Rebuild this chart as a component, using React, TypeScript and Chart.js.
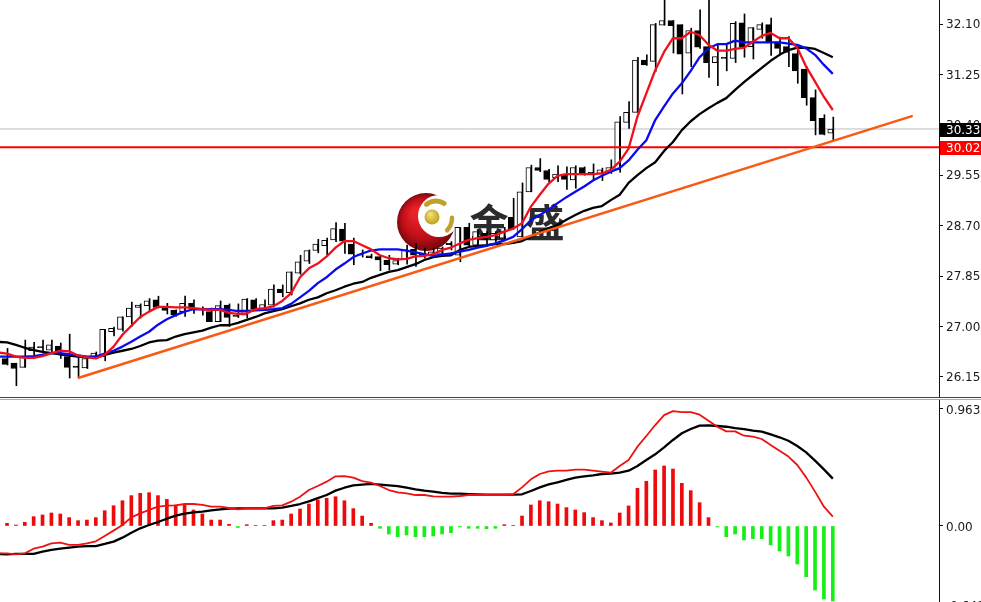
import React, { useEffect, useRef } from "react";
import { Chart, registerables } from "chart.js";

Chart.register(...registerables);

const opens = [26.50,26.46,26.38,26.31,26.59,26.66,26.60,26.67,26.49,26.33,26.30,26.48,26.49,26.91,26.95,27.16,27.32,27.35,27.45,27.32,27.27,27.25,27.39,27.31,27.25,27.08,27.36,27.19,27.19,27.45,27.29,27.36,27.63,27.57,27.90,28.10,28.28,28.36,28.46,28.64,28.39,28.22,28.19,28.18,28.12,28.05,28.13,28.30,28.23,28.20,28.23,28.40,28.20,28.67,28.37,28.57,28.46,28.49,28.84,28.51,29.27,29.68,29.63,29.51,29.57,29.47,29.68,29.60,29.58,29.61,29.64,30.44,30.61,31.49,31.47,32.08,32.16,32.09,31.61,31.99,31.72,31.45,31.54,31.52,32.12,31.72,32.01,32.09,31.80,31.72,31.60,31.34,30.86,30.51,30.26];
const highs = [26.78,26.63,26.38,26.77,26.73,26.77,26.77,26.72,26.87,26.49,26.48,26.57,26.95,26.99,27.16,27.41,27.38,27.47,27.51,27.39,27.28,27.51,27.45,27.33,27.31,27.43,27.38,27.38,27.47,27.47,27.45,27.70,27.70,27.92,28.20,28.29,28.47,28.49,28.75,28.74,28.49,28.29,28.22,28.20,28.20,28.15,28.37,28.40,28.32,28.32,28.34,28.43,28.67,28.74,28.63,28.60,28.60,28.67,29.16,29.42,29.72,29.83,29.65,29.71,29.69,29.71,29.69,29.74,29.67,29.81,30.54,30.79,31.54,31.58,32.11,32.59,32.16,32.09,32.03,32.34,32.56,31.75,31.75,32.14,32.27,32.04,32.12,32.20,31.88,31.89,31.72,31.38,30.99,30.57,30.53];
const lows = [26.48,26.35,26.00,26.31,26.52,26.55,26.55,26.46,26.13,26.13,26.29,26.46,26.42,26.84,26.92,27.00,27.14,27.25,27.31,27.21,27.17,27.17,27.22,27.19,27.08,27.08,27.00,27.15,27.14,27.28,27.28,27.33,27.50,27.53,27.88,28.06,28.24,28.20,28.43,28.23,28.04,28.17,28.15,27.94,27.95,28.04,28.05,28.01,28.15,28.17,28.18,28.29,28.09,28.35,28.36,28.35,28.43,28.47,28.64,28.51,29.27,29.61,29.44,29.44,29.31,29.33,29.55,29.47,29.46,29.58,29.60,30.34,30.61,31.40,31.30,32.08,31.61,30.92,31.38,31.69,31.20,31.06,31.31,31.45,31.54,31.51,31.86,31.57,31.58,31.38,31.10,30.73,30.23,30.23,30.15];
const closes = [26.74,26.36,26.29,26.48,26.65,26.64,26.69,26.58,26.31,26.31,26.46,26.55,26.95,26.97,27.16,27.31,27.36,27.43,27.32,27.27,27.19,27.39,27.31,27.29,27.08,27.35,27.15,27.17,27.46,27.29,27.37,27.63,27.57,27.92,28.09,28.28,28.39,28.45,28.65,28.44,28.22,28.20,28.16,28.12,28.04,28.11,28.29,28.20,28.18,28.26,28.32,28.38,28.67,28.37,28.60,28.46,28.57,28.61,28.65,29.27,29.68,29.63,29.48,29.57,29.48,29.68,29.59,29.58,29.64,29.68,30.45,30.61,31.49,31.41,32.09,32.16,32.07,31.59,31.99,31.71,31.45,31.55,31.52,32.11,31.72,32.04,32.09,31.80,31.69,31.62,31.31,30.86,30.47,30.24,30.33];

const maFast = [26.56,26.54,26.49,26.47,26.47,26.50,26.55,26.59,26.58,26.51,26.48,26.46,26.52,26.66,26.86,27.01,27.16,27.25,27.33,27.33,27.32,27.32,27.31,27.29,27.28,27.28,27.23,27.21,27.22,27.29,27.31,27.34,27.43,27.56,27.83,27.98,28.06,28.18,28.33,28.44,28.44,28.37,28.30,28.20,28.15,28.13,28.14,28.18,28.19,28.22,28.29,28.33,28.40,28.46,28.49,28.51,28.54,28.60,28.65,28.74,29.02,29.22,29.41,29.54,29.57,29.57,29.57,29.57,29.58,29.64,29.78,30.00,30.54,30.93,31.32,31.63,31.86,31.86,31.97,31.91,31.75,31.65,31.65,31.68,31.70,31.80,31.90,31.95,31.86,31.86,31.70,31.38,31.13,30.87,30.65];
const maMid = [26.49,26.49,26.49,26.49,26.50,26.52,26.55,26.55,26.53,26.51,26.49,26.49,26.54,26.59,26.66,26.74,26.83,26.91,27.03,27.12,27.19,27.25,27.29,27.29,27.29,27.29,27.28,27.26,27.26,27.27,27.28,27.29,27.31,27.38,27.49,27.60,27.73,27.83,27.96,28.06,28.17,28.23,28.28,28.30,28.30,28.30,28.28,28.25,28.22,28.19,28.21,28.23,28.26,28.29,28.33,28.36,28.40,28.45,28.51,28.64,28.79,28.88,28.97,29.08,29.18,29.27,29.36,29.46,29.54,29.61,29.67,29.80,29.98,30.14,30.48,30.71,30.93,31.10,31.31,31.54,31.69,31.76,31.76,31.82,31.79,31.79,31.79,31.79,31.79,31.77,31.75,31.69,31.58,31.41,31.26];
const maSlow = [26.74,26.73,26.69,26.64,26.60,26.57,26.55,26.53,26.51,26.49,26.48,26.49,26.52,26.56,26.59,26.62,26.67,26.73,26.76,26.77,26.83,26.87,26.90,26.93,26.98,27.02,27.02,27.06,27.11,27.16,27.22,27.26,27.29,27.34,27.39,27.45,27.49,27.56,27.61,27.67,27.72,27.75,27.82,27.87,27.92,27.95,28.00,28.05,28.12,28.17,28.19,28.20,28.29,28.34,28.36,28.37,28.39,28.39,28.41,28.44,28.51,28.59,28.66,28.71,28.80,28.88,28.95,29.00,29.03,29.13,29.22,29.42,29.55,29.67,29.77,29.96,30.11,30.31,30.46,30.58,30.68,30.77,30.85,30.99,31.12,31.24,31.36,31.48,31.58,31.66,31.70,31.70,31.68,31.61,31.54];

const trendX = [9, 103];
const trendY = [26.13, 30.55];
const bidPrice = 30.33;
const levelPrice = 30.02;
const priceTicks = [32.10, 31.25, 30.40, 29.55, 28.70, 27.85, 27.00, 26.15];

const macdHist = [0,0.022,0.008,0.03,0.077,0.091,0.107,0.099,0.069,0.044,0.049,0.069,0.126,0.167,0.208,0.25,0.269,0.274,0.25,0.219,0.173,0.178,0.132,0.099,0.049,0.049,0.014,-0.012,0.011,0.005,0.005,0.044,0.049,0.099,0.14,0.181,0.214,0.228,0.241,0.208,0.143,0.082,0.022,-0.019,-0.066,-0.088,-0.074,-0.088,-0.088,-0.082,-0.066,-0.055,-0.008,-0.019,-0.019,-0.022,-0.019,0.011,0.005,0.082,0.173,0.208,0.2,0.181,0.151,0.132,0.11,0.069,0.044,0.025,0.107,0.165,0.31,0.368,0.461,0.494,0.469,0.351,0.291,0.192,0.069,-0.008,-0.088,-0.066,-0.115,-0.104,-0.104,-0.156,-0.206,-0.247,-0.313,-0.417,-0.527,-0.601,-0.617];
const macdSlow = [-0.23,-0.233,-0.23,-0.23,-0.23,-0.211,-0.197,-0.187,-0.178,-0.17,-0.165,-0.165,-0.148,-0.129,-0.096,-0.055,-0.019,0.008,0.033,0.06,0.085,0.101,0.112,0.118,0.129,0.137,0.143,0.145,0.145,0.145,0.145,0.145,0.151,0.165,0.181,0.203,0.23,0.255,0.291,0.315,0.335,0.34,0.346,0.34,0.335,0.329,0.315,0.302,0.291,0.283,0.272,0.266,0.266,0.263,0.261,0.258,0.258,0.258,0.258,0.261,0.288,0.318,0.343,0.359,0.379,0.398,0.409,0.417,0.428,0.431,0.439,0.455,0.494,0.543,0.59,0.647,0.708,0.763,0.798,0.826,0.828,0.823,0.817,0.806,0.798,0.785,0.776,0.754,0.73,0.702,0.658,0.606,0.538,0.466,0.39];
const macdFast = [-0.225,-0.225,-0.233,-0.225,-0.187,-0.17,-0.143,-0.137,-0.156,-0.156,-0.143,-0.126,-0.082,-0.038,0.008,0.071,0.104,0.132,0.159,0.167,0.17,0.181,0.181,0.173,0.159,0.159,0.148,0.137,0.145,0.145,0.145,0.165,0.17,0.2,0.241,0.296,0.329,0.365,0.409,0.411,0.398,0.37,0.357,0.329,0.296,0.277,0.269,0.255,0.255,0.244,0.241,0.241,0.247,0.255,0.255,0.255,0.255,0.255,0.261,0.318,0.384,0.428,0.45,0.455,0.455,0.464,0.464,0.455,0.447,0.439,0.494,0.543,0.653,0.741,0.831,0.913,0.946,0.938,0.938,0.916,0.867,0.817,0.779,0.779,0.743,0.735,0.716,0.667,0.62,0.571,0.502,0.4,0.283,0.159,0.077];
const macdTicks = [0.963, 0, -0.648];

const X_MIN = 0.21;
const X_MAX = 105.96;
const FONT = "'DejaVu Sans', sans-serif";

const pts = (arr: number[]) => arr.map((y, x) => ({ x, y }));
const line = (label: string, data: any[], color: string, width: number, order: number) => ({
  type: "line" as const, label, data, borderColor: color, borderWidth: width,
  pointRadius: 0, tension: 0, fill: false, order, borderJoinStyle: "round" as const,
});

const axis = (min: number, max: number, ticks: number[], digits: number, labelOffset: number) => ({
  type: "linear" as const, position: "right" as const, min, max,
  grid: { display: true, drawOnChartArea: false, drawTicks: true, tickLength: 4, tickWidth: 1, tickColor: "#111" },
  border: { display: true, color: "#111", width: 1 },
  afterBuildTicks: (s: any) => { s.ticks = ticks.map((value) => ({ value })); },
  afterFit: (s: any) => { s.width = 42; s.paddingTop = 0; s.paddingBottom = 0; },
  ticks: {
    color: "#1a1a1a", padding: 3, autoSkip: false, maxRotation: 0, labelOffset,
    font: { family: FONT, size: 12 },
    callback: (v: any) => (v === 0 ? "0.00" : Number(v).toFixed(digits)),
  },
});
const xAxis = { type: "linear" as const, min: X_MIN, max: X_MAX, display: false, offset: false };

const priceBoxes = {
  id: "priceBoxes",
  afterDraw(chart: any) {
    const c = chart.ctx; const s = chart.scales.y;
    const box = (v: number, bg: string) => {
      const y = s.getPixelForValue(v);
      c.save();
      c.fillStyle = bg; c.fillRect(940, Math.round(y) - 6, 41, 14);
      c.fillStyle = "#fff"; c.font = `12px ${FONT}`; c.textBaseline = "middle"; c.textAlign = "left";
      c.fillText(v.toFixed(2), 946, y + 1.5);
      c.restore();
    };
    box(bidPrice, "#000");
    box(levelPrice, "#f00");
  },
};

const watermark = {
  id: "watermark",
  beforeDatasetsDraw(chart: any) {
    const c = chart.ctx;
    c.save();
    const g = c.createRadialGradient(416, 212, 4, 426, 222, 30);
    g.addColorStop(0, "#e8222a"); g.addColorStop(0.6, "#c00f17"); g.addColorStop(1, "#6e070c");
    c.fillStyle = g; c.beginPath(); c.arc(426, 222, 29, 0, Math.PI * 2); c.fill();
    c.fillStyle = "#fff"; c.beginPath(); c.arc(439, 216, 21, 0, Math.PI * 2); c.fill();
    const b = c.createRadialGradient(430, 214, 1, 432, 217, 9);
    b.addColorStop(0, "#efe070"); b.addColorStop(1, "#b8951a");
    c.fillStyle = b; c.beginPath(); c.arc(432, 217, 7.5, 0, Math.PI * 2); c.fill();
    c.strokeStyle = "#bfa22e"; c.lineCap = "round"; c.lineWidth = 5;
    c.beginPath(); c.arc(436, 216, 15, -Math.PI * 0.72, -Math.PI * 0.32); c.stroke();
    c.lineWidth = 4.5;
    c.beginPath(); c.arc(434, 218, 18, -0.02, Math.PI * 0.24); c.stroke();
    c.fillStyle = "#2b2b2b"; c.font = "bold 39px 'Noto Sans CJK SC'"; c.textAlign = "center"; c.textBaseline = "middle";
    c.fillText("金", 489, 222);
    c.fillText("盛", 545, 222);
    c.restore();
  },
};

function Panel({ top, height, build }: { top: number; height: number; build: (c: HTMLCanvasElement) => Chart }) {
  const ref = useRef<HTMLCanvasElement>(null);
  useEffect(() => {
    const chart = build(ref.current!);
    return () => chart.destroy();
  }, []);
  return <canvas ref={ref} width={981} height={height} style={{ position: "absolute", left: 0, top, width: 981, height }} />;
}

const baseOptions = {
  responsive: false, animation: false as const, devicePixelRatio: 1,
  layout: { padding: 0, autoPadding: false },
  plugins: { legend: { display: false }, tooltip: { enabled: false } },
};

const buildMain = (el: HTMLCanvasElement) => new Chart(el, {
  type: "bar",
  data: {
    datasets: [
      line("Trend", trendX.map((x, i) => ({ x, y: trendY[i] })), "#f75a14", 2.5, 1),
      line("Fast MA", pts(maFast), "#f0101c", 2.3, 2),
      line("Mid MA", pts(maMid), "#0a0aee", 2.3, 3),
      line("Slow MA", pts(maSlow), "#000", 2.3, 4),
      line("Level", [{ x: X_MIN, y: levelPrice }, { x: X_MAX, y: levelPrice }], "#f00", 2, 5),
      {
        type: "bar", label: "Body",
        data: opens.map((o, x) => ({ x, y: [o, closes[x]] })),
        backgroundColor: opens.map((o, i) => (closes[i] > o ? "#fff" : "#000")),
        borderColor: "#000", borderWidth: 1, borderSkipped: false, barThickness: 5, order: 6,
      },
      {
        type: "bar", label: "Wick",
        data: lows.map((l, x) => ({ x, y: [l, highs[x]] })),
        backgroundColor: "#000", barThickness: 1, order: 7,
      },
      line("Bid", [{ x: X_MIN, y: bidPrice }, { x: X_MAX, y: bidPrice }], "#bdbdbd", 1, 8),
    ] as any,
  },
  options: {
    ...baseOptions,
    scales: { x: xAxis, y: axis(25.81, 32.505, priceTicks, 2, 1) as any },
  } as any,
  plugins: [watermark, priceBoxes],
});

const buildMacd = (el: HTMLCanvasElement) => new Chart(el, {
  type: "bar",
  data: {
    datasets: [
      line("Signal", pts(macdFast), "#ee1111", 1.8, 1),
      line("MACD", pts(macdSlow), "#000", 2.3, 2),
      {
        type: "bar", label: "Histogram",
        data: pts(macdHist),
        backgroundColor: macdHist.map((v) => (v >= 0 ? "#ee0a0a" : "#14f014")),
        barThickness: 3, order: 3,
      },
    ] as any,
  },
  options: {
    ...baseOptions,
    scales: { x: xAxis, y: axis(-0.7243, 1.037, macdTicks, 3, 2) as any },
  } as any,
});

export default function App() {
  return (
    <div style={{ position: "absolute", left: 0, top: 0, width: 981, height: 602, overflow: "hidden", background: "#fff" }}>
      <Panel top={0} height={397} build={buildMain} />
      <div style={{ position: "absolute", left: 0, top: 397, width: 981, height: 1, background: "#444" }} />
      <div style={{ position: "absolute", left: 0, top: 399, width: 981, height: 1, background: "#aaa" }} />
      <Panel top={400} height={214} build={buildMacd} />
    </div>
  );
}
